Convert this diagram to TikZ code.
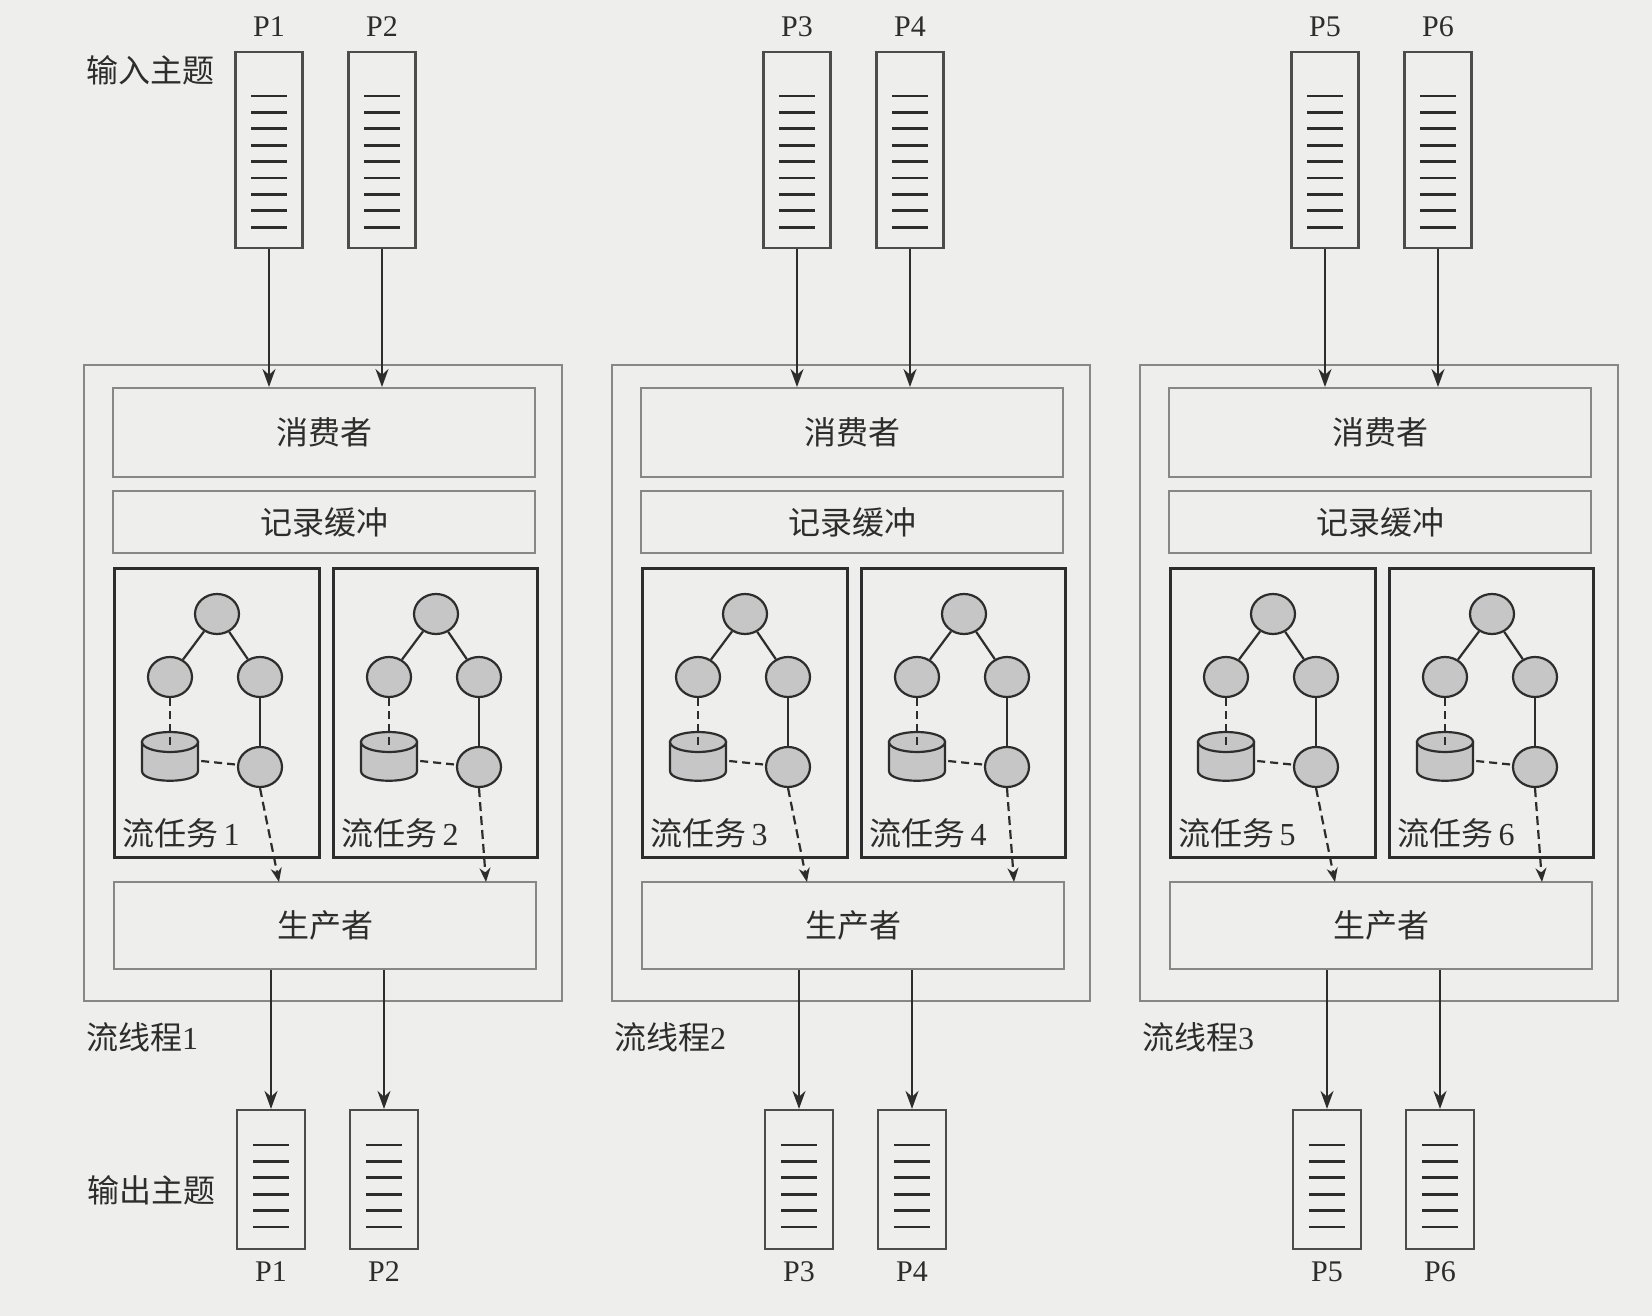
\documentclass[tikz,border=0pt]{standalone}
\usepackage{fontspec}
\setmainfont{Liberation Serif}
\newfontfamily\cjk{Noto Sans CJK SC}
\usetikzlibrary{arrows.meta,shapes.geometric}
\definecolor{bg}{RGB}{238,238,236}
\definecolor{ink}{RGB}{45,45,45}
\definecolor{lite}{RGB}{135,135,135}
\definecolor{nodefill}{RGB}{198,198,198}
\tikzset{
  threadbox/.style={draw=lite, line width=2.2pt, inner sep=0},
  stagebox/.style={draw=lite, line width=2pt, inner sep=0, text=ink, font=\cjk\fontsize{32}{35}\selectfont},
  taskbox/.style={draw=ink, line width=3.4pt, inner sep=0},
  part/.style={draw=ink!85, line width=2.2pt, inner sep=0},
  entry/.style={draw=ink, line width=2.8pt},
  opnode/.style={ellipse, draw=ink, fill=nodefill, line width=2.2pt, minimum width=44pt, minimum height=40pt, inner sep=0},
  dbshape/.style={draw=ink, fill=nodefill, line width=2.2pt},
  link/.style={draw=ink, line width=2.2pt},
  dlink/.style={link, dash pattern=on 8pt off 5pt},
  flow/.style={draw=ink, line width=2.2pt, -{Stealth[length=18pt,width=13pt]}},
  dflow/.style={draw=ink, line width=2.2pt, dash pattern=on 9pt off 5pt, -{Stealth[length=14pt,width=11pt]}},
  plabel/.style={text=ink, font=\fontsize{30}{33}\selectfont, inner sep=0},
  cjklabel/.style={text=ink, font=\cjk\fontsize{32}{35}\selectfont, inner sep=0},
}
\begin{document}
\begin{tikzpicture}[x=1pt,y=-1pt]
\useasboundingbox (0,0) rectangle (1652,1316);
\fill[bg] (0,0) rectangle (1652,1316);

\node[cjklabel, anchor=west] (intopic) at (86,70) {输入主题};
\node[cjklabel, anchor=west] (outtopic) at (87,1190) {输出主题};

\foreach \g in {1,2,3} {
  \pgfmathsetmacro\L{84+528*(\g-1)}
  \pgfmathtruncatemacro\pa{2*\g-1}
  \pgfmathtruncatemacro\pb{2*\g}
  % thread container
  \node[threadbox, minimum width=478pt, minimum height=636pt] (thr\g) at (\L+239,683) {};
  \node[stagebox, minimum width=422pt, minimum height=89pt] (cons\g) at (\L+240,432.5) {消费者};
  \node[stagebox, minimum width=422pt, minimum height=62pt] (buf\g) at (\L+240,522) {记录缓冲};
  \node[stagebox, minimum width=422pt, minimum height=87pt] (prod\g) at (\L+241,925.5) {生产者};
  \node[cjklabel, anchor=west] (thrlbl\g) at (\L+2,1037) {流线程\fontspec{Liberation Serif}\g};
  % tasks
  \foreach \k/\T/\W/\tx/\n in {a/29/205/195/\pa, b/248/204/402/\pb} {
    \node[taskbox, minimum width=\W pt, minimum height=289pt, anchor=north west] (task\g\k) at (\L+\T,567) {};
    \node[opnode] (root\g\k) at (\L+\T+104,614) {};
    \node[opnode] (lft\g\k) at (\L+\T+57,677) {};
    \node[opnode] (rgt\g\k) at (\L+\T+147,677) {};
    \node[opnode] (bot\g\k) at (\L+\T+147,767) {};
    % state store cylinder
    \path[dbshape] (\L+\T+29,742) -- (\L+\T+29,771) .. controls (\L+\T+29,784) and (\L+\T+85,784) .. (\L+\T+85,771) -- (\L+\T+85,742) -- cycle;
    \path[dbshape] (\L+\T+57,742) ellipse [x radius=28, y radius=10];
    \node[inner sep=0, minimum width=62pt, minimum height=40pt] (db\g\k) at (\L+\T+57,761) {};
    \coordinate (dbt\g\k) at (\L+\T+57,745);
    \coordinate (tgt\g\k) at (\L+\tx,882);
    \draw[link] (root\g\k) -- (lft\g\k);
    \draw[link] (root\g\k) -- (rgt\g\k);
    \draw[link] (rgt\g\k) -- (bot\g\k);
    \draw[dlink] (lft\g\k) -- (dbt\g\k);
    \draw[dlink] (db\g\k.east) -- (bot\g\k);
    \draw[dflow] (bot\g\k.south) -- (tgt\g\k);
    \node[cjklabel, anchor=west] (tlbl\g\k) at (\L+\T+9,833) {流任务\,\fontspec{Liberation Serif}\n};
  }
  % input partitions
  \foreach \k/\X/\n in {A/185/\pa, B/298/\pb} {
    \node[part, minimum width=67pt, minimum height=196pt] (in\k\g) at (\L+\X,150) {};
    \foreach \i in {0,...,8} {
      \draw[entry] (\L+\X-18,96+16.4*\i) -- ++(36,0);
    }
    \node[plabel] (inl\k\g) at (\L+\X,27) {P\n};
    \draw[flow] (in\k\g.south) -- (in\k\g.south |- cons\g.north);
  }
  % output partitions
  \foreach \k/\X/\n in {A/187/\pa, B/300/\pb} {
    \node[part, minimum width=68pt, minimum height=139pt] (out\k\g) at (\L+\X,1179.5) {};
    \foreach \i in {0,...,5} {
      \draw[entry] (\L+\X-18,1145+16.4*\i) -- ++(36,0);
    }
    \node[plabel] (outl\k\g) at (\L+\X,1272) {P\n};
    \draw[flow] (out\k\g.north |- prod\g.south) -- (out\k\g.north);
  }
}
\end{tikzpicture}
\end{document}
